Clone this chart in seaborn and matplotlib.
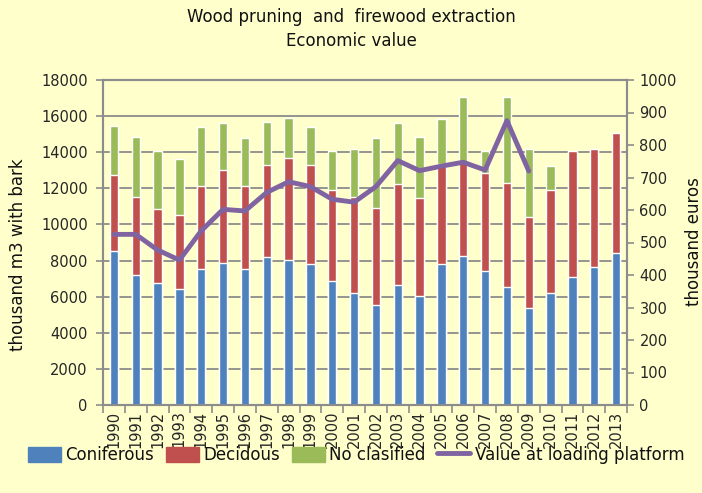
import matplotlib
matplotlib.use("Agg")
import matplotlib.pyplot as plt
import matplotlib.patches as mpatches
import matplotlib.lines as mlines
import seaborn as sns
import pandas as pd
import numpy as np

years = [str(y) for y in range(1990, 2014)]
coniferous = [8545, 7180, 6735, 6400, 7550, 7860, 7510, 8175, 8030, 7790, 6885, 6185,
              5520, 6645, 6035, 7790, 8270, 7420, 6515, 5355, 6185, 7105, 7640, 8415]
decidous = [4205, 4355, 4115, 4140, 4595, 5135, 4635, 5130, 5665, 5515, 5035, 5350,
            5405, 5610, 5445, 5570, 5165, 5445, 5795, 5035, 5735, 6980, 6515, 6665]
no_clasified = [2700, 3305, 3215, 3080, 3230, 2620, 2620, 2385, 2215, 2070, 2145, 2620,
                3840, 3360, 3360, 2475, 3620, 1200, 4745, 3765, 1315, 0, 0, 0]
value_platform = [525, 525, 477, 446, 536, 602, 597, 654, 687, 672, 633, 624,
                  672, 752, 721, 735, 747, 723, 875, 720]

df = pd.DataFrame({"year": years, "con": coniferous, "dec": decidous, "nc": no_clasified})
df["red_top"] = df["con"] + df["dec"]
df["total"] = df["red_top"] + df["nc"]
line_df = pd.DataFrame({"pos": np.arange(len(value_platform)), "value": value_platform})

bg = "#FFFFCC"
grey = "#8C8C8C"
c_blue, c_red, c_green, c_purple = "#4F81BD", "#C0504D", "#9BBB59", "#8064A2"

sns.set_theme(style="white")
plt.rcParams["font.family"] = ["DejaVu Sans"]
plt.rcParams["text.color"] = "#111111"

fig = plt.figure(figsize=(7.02, 4.93), dpi=100, facecolor=bg)
ax = fig.add_axes([103 / 702, 1 - 405 / 493, 524 / 702, 325 / 493])
ax.set_facecolor(bg)

# stacked look: draw cumulative totals, tallest first
sns.barplot(data=df, x="year", y="total", color=c_green, width=0.38, saturation=1, ax=ax)
sns.barplot(data=df, x="year", y="red_top", color=c_red, width=0.38, saturation=1, ax=ax)
sns.barplot(data=df, x="year", y="con", color=c_blue, width=0.38, saturation=1, ax=ax)

ax.set_ylim(0, 18000)
ax.set_yticks(range(0, 18001, 2000))
ax.set_xlim(-0.5, len(years) - 0.5)
ax.grid(axis="y", color=grey, linewidth=1.3)
ax.set_axisbelow(True)
ax.set_xlabel("")
ax.set_ylabel("")
ax.tick_params(axis="x", which="major", rotation=90, labelsize=10.5, length=0, pad=4)
ax.set_xticks(np.arange(-0.5, len(years)), minor=True)
ax.tick_params(axis="x", which="minor", length=6, width=1.2, color=grey, bottom=True, direction="out")
ax.tick_params(axis="y", labelsize=10.5, length=5, width=1.2, color=grey, left=True, direction="out", pad=6)
for s in ax.spines.values():
    s.set_color(grey)
    s.set_linewidth(1.5)

ax2 = ax.twinx()
sns.lineplot(data=line_df, x="pos", y="value", color=c_purple, linewidth=3.5, ax=ax2)
ax2.set_ylim(0, 1000)
ax2.set_yticks(range(0, 1001, 100))
ax2.set_ylabel("")
ax2.tick_params(axis="y", labelsize=10.5, length=5, width=1.2, color=grey, direction="out", pad=4, right=True)
for s in ax2.spines.values():
    s.set_color(grey)
    s.set_linewidth(1.5)

fig.text(18 / 702, 1 - 255 / 493, "thousand m3 with bark", rotation=90, ha="center", va="center", fontsize=12)
fig.text(694 / 702, 1 - 242 / 493, "thousand euros", rotation=90, ha="center", va="center", fontsize=12)
fig.text(0.5, 1 - 17 / 493, "Wood pruning  and  firewood extraction", ha="center", va="center", fontsize=12)
fig.text(0.5, 1 - 41 / 493, "Economic value", ha="center", va="center", fontsize=12)

handles = [
    mpatches.Patch(color=c_blue, label="Coniferous"),
    mpatches.Patch(color=c_red, label="Decidous"),
    mpatches.Patch(color=c_green, label="No clasified"),
    mlines.Line2D([], [], color=c_purple, linewidth=3.5, label="Value at loading platform"),
]
fig.legend(handles=handles, loc="center", bbox_to_anchor=(356 / 702, 1 - 455 / 493), ncol=4,
           frameon=False, fontsize=12, handlelength=2.0, handleheight=1.0,
           handletextpad=0.25, columnspacing=0.7, borderaxespad=0, borderpad=0)

fig.savefig("out.png", dpi=100, facecolor=bg)
